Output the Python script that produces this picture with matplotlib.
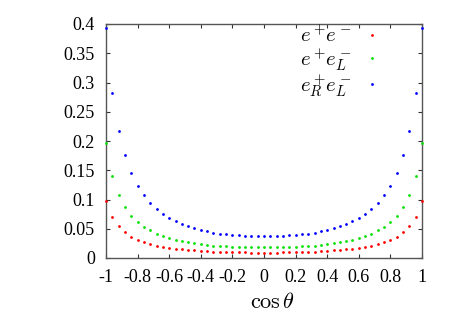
import numpy as np
import matplotlib
matplotlib.use('Agg')
from matplotlib import pyplot as plt

plt.rcParams['font.family'] = 'Liberation Serif'
plt.rcParams['mathtext.fontset'] = 'cm'
plt.rcParams['axes.unicode_minus'] = False

# sampling grid of cos(theta), 51 points
cos_theta = np.linspace(-1, 1, 51)

red = [0.098, 0.0706, 0.0547, 0.0439, 0.0364, 0.0313, 0.0268, 0.0239, 0.0210, 0.0193,
       0.0174, 0.0159, 0.0147, 0.0137, 0.0129, 0.0121, 0.0114, 0.0109, 0.0105, 0.0102,
       0.0099, 0.0097, 0.0095, 0.0093, 0.0093, 0.0092, 0.0093, 0.0093, 0.0095, 0.0097,
       0.0099, 0.0102, 0.0105, 0.0109, 0.0114, 0.0121, 0.0129, 0.0137, 0.0147, 0.0159,
       0.0174, 0.0193, 0.0210, 0.0239, 0.0268, 0.0313, 0.0364, 0.0439, 0.0547, 0.0706,
       0.098]
green = [0.196, 0.1407, 0.108, 0.0872, 0.0724, 0.0615, 0.053, 0.0473, 0.0416, 0.0376,
         0.0342, 0.0313, 0.0291, 0.0268, 0.0251, 0.0234, 0.0222, 0.021, 0.0205, 0.020,
         0.0193, 0.019, 0.0187, 0.0185, 0.0184, 0.0183, 0.0184, 0.0185, 0.0187, 0.019,
         0.0193, 0.020, 0.0205, 0.021, 0.0222, 0.0234, 0.0251, 0.0268, 0.0291, 0.0313,
         0.0342, 0.0376, 0.0416, 0.0473, 0.053, 0.0615, 0.0724, 0.0872, 0.108, 0.1407,
         0.196]
blue = [0.3926, 0.2815, 0.217, 0.1755, 0.1453, 0.1236, 0.107, 0.0946, 0.0843, 0.0758,
        0.0689, 0.0632, 0.0586, 0.0547, 0.0513, 0.0484, 0.0456, 0.0433, 0.0417, 0.0405,
        0.0397, 0.0388, 0.0382, 0.0376, 0.0372, 0.0371, 0.0372, 0.0376, 0.0382, 0.0388,
        0.0397, 0.0405, 0.0417, 0.0433, 0.0456, 0.0484, 0.0513, 0.0547, 0.0586, 0.0632,
        0.0689, 0.0758, 0.0843, 0.0946, 0.107, 0.1236, 0.1453, 0.1755, 0.217, 0.2815,
        0.3926]

labels = [r'$e^+\!e^-$', r'$e^+\!e^-_L$', r'$e^+_R\!e^-_L$']
colors = ['#ff0000', '#00e000', '#0000ff']

xticks = [-1, -0.8, -0.6, -0.4, -0.2, 0, 0.2, 0.4, 0.6, 0.8, 1]
xtick_labels = ['-1', '-0.8', '-0.6', '-0.4', '-0.2', '0', '0.2', '0.4', '0.6', '0.8', '1']
yticks = [0, 0.05, 0.1, 0.15, 0.2, 0.25, 0.3, 0.35, 0.4]
ytick_labels = ['0', '0.05', '0.1', '0.15', '0.2', '0.25', '0.3', '0.35', '0.4']

fig = plt.figure(figsize=(4.57, 3.2), dpi=100)
ax = fig.add_axes([106/457, 1-258/320, 316/457, 234/320])

for ys, c, lab in zip([red, green, blue], colors, labels):
    ax.plot(cos_theta, ys, linestyle='none', marker='o', ms=2.0, mew=0, color=c,
            label=lab, clip_on=False, zorder=3)

ax.set_xlim(-1, 1)
ax.set_ylim(0, 0.4)
ax.set_xticks(xticks)
ax.set_xticklabels(xtick_labels)
ax.set_yticks(yticks)
ax.set_yticklabels(ytick_labels)
ax.tick_params(direction='in', top=True, right=True, length=3, width=0.8,
               labelsize=13, color='#333333')
ax.tick_params(axis='x', pad=8)
ax.tick_params(axis='y', pad=8)
for s in ax.spines.values():
    s.set_color('#555555')
    s.set_linewidth(1.0)

ax.set_xlabel(r'$\cos\theta$', fontsize=16, va='center')
ax.xaxis.set_label_coords((273-106)/316, -0.192)

leg = ax.legend(loc='upper right', bbox_to_anchor=((380-106)/316, 0.99),
                frameon=False, markerfirst=False, numpoints=1, handlelength=0.8,
                handletextpad=0.6, borderpad=0, borderaxespad=0, labelspacing=-0.05,
                fontsize=15)

fig.savefig('out.png', dpi=100)
